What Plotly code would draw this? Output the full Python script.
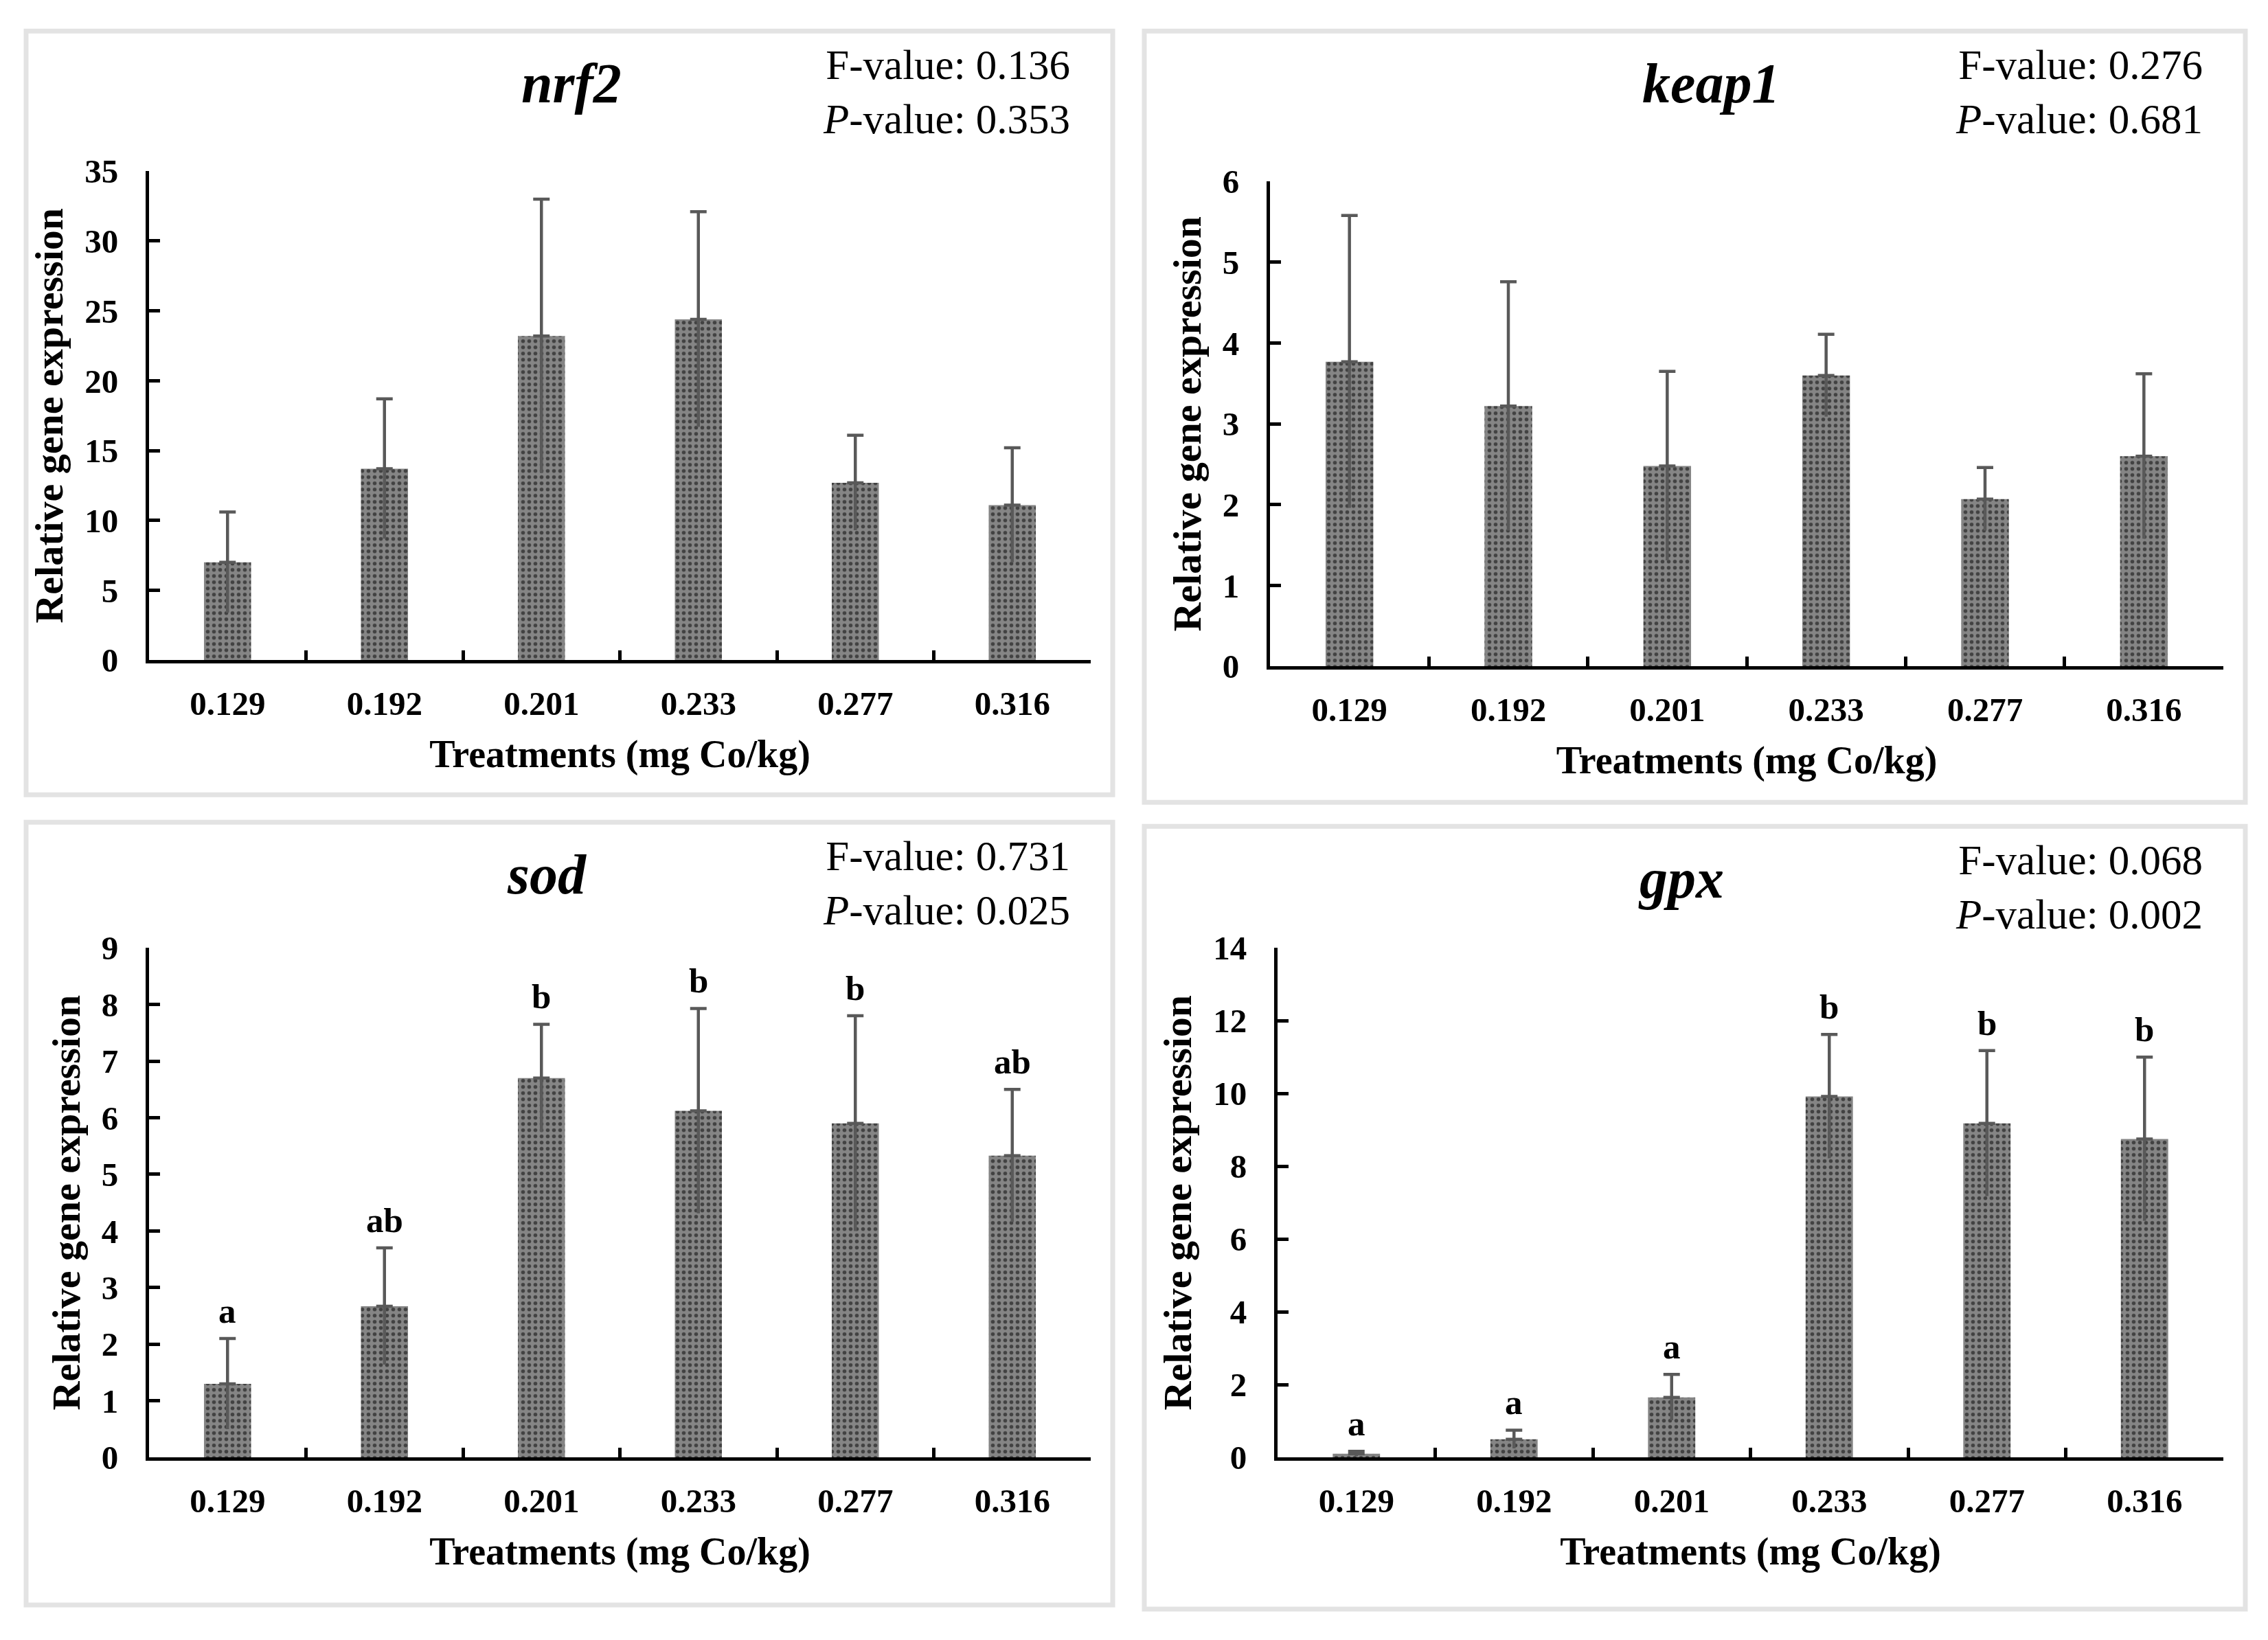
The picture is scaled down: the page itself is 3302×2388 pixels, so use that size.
import plotly.graph_objects as go

# treatments (mg Co/kg)
treatments = ["0.129", "0.192", "0.201", "0.233", "0.277", "0.316"]

nrf2_mean = [7.0, 13.7, 23.2, 24.4, 12.7, 11.1]
nrf2_err = [3.6, 5.0, 9.8, 7.7, 3.4, 4.1]

keap1_mean = [3.77, 3.22, 2.48, 3.60, 2.07, 2.60]
keap1_err = [1.81, 1.54, 1.17, 0.51, 0.39, 1.02]

sod_mean = [1.30, 2.67, 6.70, 6.12, 5.90, 5.33]
sod_err = [0.80, 1.03, 0.95, 1.81, 1.90, 1.17]
sod_letters = ["a", "ab", "b", "b", "b", "ab"]

gpx_mean = [0.10, 0.50, 1.65, 9.92, 9.18, 8.75]
gpx_err = [0.07, 0.25, 0.63, 1.70, 2.00, 2.25]
gpx_letters = ["a", "a", "a", "b", "b", "b"]

genes = ["nrf2", "keap1", "sod", "gpx"]
f_values = ["0.136", "0.276", "0.731", "0.068"]
p_values = ["0.353", "0.681", "0.025", "0.002"]
y_max = [35, 6, 9, 14]
y_step = [5, 1, 1, 2]

W, H = 3302, 2388
SERIF = "Liberation Serif, Times New Roman, serif"


# positions below are given in pixels of the finished picture; the page
# puts the figure a little lower and squeezes it, so correct for that
def px(x):
    return (x - 8) / W


def py(y):
    return 1 - (1.0235 * y - 34.5) / H


# plot areas in pixels: (left, right, top, bottom)
areas = [
    (217, 1588, 248, 960),
    (1849, 3237, 263, 969),
    (217, 1588, 1379, 2121),
    (1860, 3237, 1379, 2121),
]
# panel frames: (left, right, top, bottom)
frames = [
    (38, 1620, 44, 1156),
    (1666, 3269, 44, 1167),
    (38, 1620, 1196, 2336),
    (1666, 3269, 1202, 2342),
]
title_x = [832, 2491, 796, 2447]

series = [
    (nrf2_mean, nrf2_err, None),
    (keap1_mean, keap1_err, None),
    (sod_mean, sod_err, sod_letters),
    (gpx_mean, gpx_err, gpx_letters),
]

fig = go.Figure()
annotations = []
shapes = []

for i, (means, errs, letters) in enumerate(series):
    n = i + 1
    xa = "x" if n == 1 else f"x{n}"
    ya = "y" if n == 1 else f"y{n}"
    l, r, t, b = areas[i]
    fl, fr, ft, fb = frames[i]

    fig.add_trace(go.Bar(
        x=treatments, y=means, xaxis=xa, yaxis=ya,
        marker=dict(
            color="#7a7a7a",
            line=dict(width=0),
            pattern=dict(shape=".", fgcolor="black", bgcolor="#858585",
                         size=9, solidity=0.3),
        ),
        error_y=dict(type="data", symmetric=False, array=errs,
                     arrayminus=[0] * len(errs), color="#595959",
                     thickness=4.5, width=12),
        showlegend=False,
    ))
    # lower half of the error bars, no cap
    fig.add_trace(go.Scatter(
        x=treatments, y=means, xaxis=xa, yaxis=ya, mode="markers",
        marker=dict(size=1, opacity=0),
        error_y=dict(type="data", symmetric=False, array=[0] * len(errs),
                     arrayminus=errs, color="#595959", thickness=4.5, width=0),
        showlegend=False, hoverinfo="skip",
    ))

    fig.layout[f"xaxis{'' if n == 1 else n}"] = dict(
        domain=[px(l), px(r)], anchor=ya,
        type="category", range=[-0.5, 5.5],
        showline=True, linecolor="black", linewidth=5,
        ticks="inside", tickson="boundaries", ticklen=14, tickwidth=5,
        tickcolor="black", ticklabelstandoff=16,
        tickfont=dict(family=SERIF, size=49, color="black", weight="bold"),
        title=dict(text="<b>Treatments (mg Co/kg)</b>", standoff=28,
                   font=dict(family=SERIF, size=56, color="black")),
        showgrid=False, zeroline=False, fixedrange=True,
    )
    fig.layout[f"yaxis{'' if n == 1 else n}"] = dict(
        domain=[py(b), py(t)], anchor=xa,
        range=[0, y_max[i]], dtick=y_step[i], tick0=0,
        showline=True, linecolor="black", linewidth=5,
        ticks="inside", ticklen=16, tickwidth=5, tickcolor="black",
        ticklabelstandoff=30,
        tickfont=dict(family=SERIF, size=49, color="black", weight="bold"),
        title=dict(text="<b>Relative gene expression</b>", standoff=14,
                   font=dict(family=SERIF, size=58, color="black")),
        showgrid=False, zeroline=False, fixedrange=True,
    )

    # gene title
    annotations.append(dict(
        xref="paper", yref="paper", x=px(title_x[i]), y=py(ft + 76),
        text=f"<b><i>{genes[i]}</i></b>", showarrow=False,
        xanchor="center", yanchor="middle",
        font=dict(family=SERIF, size=82, color="black"),
    ))
    # statistics
    annotations.append(dict(
        xref="paper", yref="paper", x=px(fr - 60), y=py(ft + 14),
        text=f"F-value: {f_values[i]}<br><i>P</i>-value: {p_values[i]}",
        showarrow=False, xanchor="right", yanchor="top", align="right",
        font=dict(family=SERIF, size=61, color="black"),
    ))
    # significance letters
    if letters:
        for k, (m, e, lt) in enumerate(zip(means, errs, letters)):
            annotations.append(dict(
                xref=xa, yref=ya, x=k, y=m + e, text=f"<b>{lt}</b>",
                showarrow=False, yanchor="bottom", yshift=10,
                font=dict(family=SERIF, size=51, color="black"),
            ))

    shapes.append(dict(
        type="rect", xref="paper", yref="paper",
        x0=px(fl), x1=px(fr), y0=py(fb), y1=py(ft),
        line=dict(color="#e3e3e3", width=7), fillcolor="rgba(0,0,0,0)",
        layer="below",
    ))

fig.update_layout(
    width=W, height=H,
    margin=dict(l=0, r=0, t=0, b=0),
    paper_bgcolor="white", plot_bgcolor="white",
    bargap=0.7,
    annotations=annotations, shapes=shapes,
    showlegend=False,
)

fig.write_html("out.html", config={"displayModeBar": False})
